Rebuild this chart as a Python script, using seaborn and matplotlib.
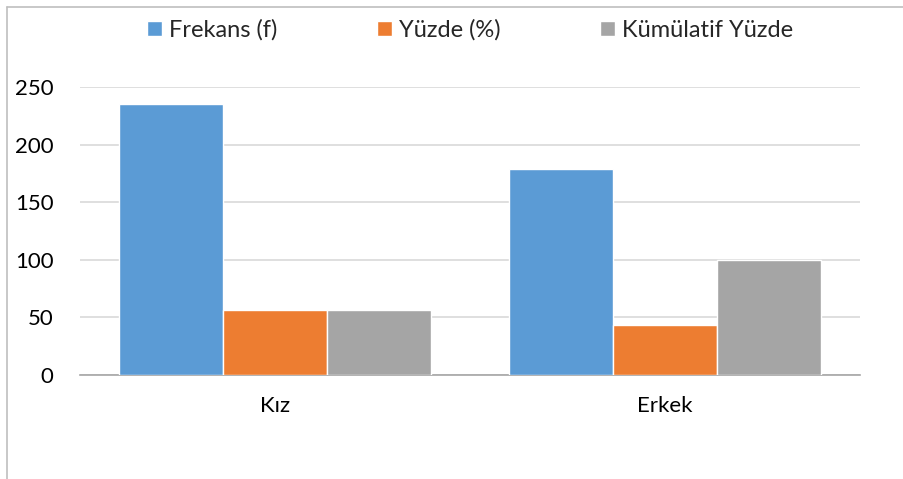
import pandas as pd
import matplotlib.pyplot as plt
import seaborn as sns
from matplotlib.lines import Line2D

# Veriler
kategoriler = ["Kız", "Erkek"]
seriler = ["Frekans (f)", "Yüzde (%)", "Kümülatif Yüzde"]
frekans = [235, 179]
yuzde = [56.8, 43.2]
kumulatif = [56.8, 100]
renkler = ["#5B9BD5", "#ED7D31", "#A5A5A5"]

df = pd.DataFrame({
    "kategori": kategoriler * 3,
    "seri": [s for s in seriler for _ in kategoriler],
    "deger": frekans + yuzde + kumulatif,
})

sns.set_style("white")
plt.rcParams["font.family"] = ["Lato", "DejaVu Sans"]

fig = plt.figure(figsize=(9.04, 4.79), dpi=100)
ax = fig.add_axes([0.0885, 0.217, 0.8625, 0.601])

sns.barplot(data=df, x="kategori", y="deger", hue="seri", palette=renkler,
            width=0.8, saturation=1, ax=ax, zorder=3)

ax.set_ylim(0, 250)
ax.set_xlim(-0.5, 1.5)
ax.set_yticks(range(0, 251, 50))
ax.yaxis.grid(True, color="#d9d9d9", linewidth=1.2, zorder=0)
ax.set_axisbelow(True)
for s in ["left", "right", "top"]:
    ax.spines[s].set_visible(False)
ax.spines["bottom"].set_color("#a6a6a6")
ax.spines["bottom"].set_linewidth(1.2)
ax.tick_params(axis="both", length=0, labelsize=16, colors="#000000")
ax.tick_params(axis="y", pad=19)
ax.tick_params(axis="x", pad=15)
ax.set_xlabel("")
ax.set_ylabel("")

leg = ax.legend(loc="center", bbox_to_anchor=(0.5, 1.198), ncol=3,
                frameon=False, fontsize=17, handlelength=0.64, handleheight=0.64,
                handletextpad=0.3, columnspacing=4.2)

# Çerçeve (sol ve üst kenar)
fig.add_artist(Line2D([7 / 904, 7 / 904], [0, 1 - 7 / 479], color="#bfbfbf", linewidth=1.2))
fig.add_artist(Line2D([7 / 904, 1], [1 - 7 / 479, 1 - 7 / 479], color="#bfbfbf", linewidth=1.2))

plt.savefig("out.png", dpi=100)
